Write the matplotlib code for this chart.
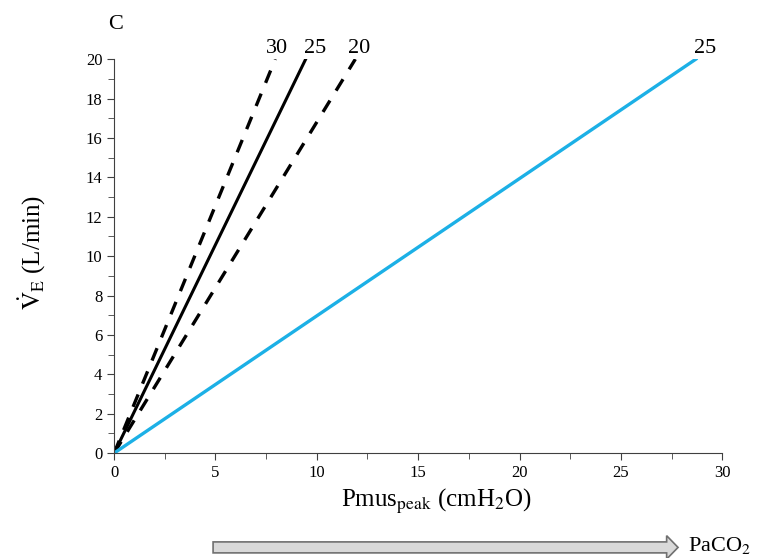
import matplotlib.pyplot as plt
from matplotlib.patches import FancyArrow

plt.rcParams['font.family'] = ['Liberation Serif', 'DejaVu Serif']
plt.rcParams['mathtext.fontset'] = 'stix'

# V'E vs Pmus_peak, end points (lines go through origin)
ve = [0, 20]
pmus_30 = [0, 7.95]     # dashed, PaCO2 30
pmus_25 = [0, 9.45]     # solid, PaCO2 25
pmus_20 = [0, 11.9]     # dashed, PaCO2 20
pmus_blue = [0, 28.7]   # blue, PaCO2 25

top_labels = ['30', '25', '20', '25']
label_x = [8.05, 9.9, 12.1, 29.15]
xticks = [0, 5, 10, 15, 20, 25, 30]
yticks = [0, 2, 4, 6, 8, 10, 12, 14, 16, 18, 20]

fig = plt.figure(figsize=(7.61, 5.58), dpi=100)
ax = fig.add_axes([0.150, 0.188, 0.799, 0.706])

ax.plot(pmus_30, ve, color='black', lw=2.4, ls=(0, (4, 3.5)), solid_capstyle='butt')
ax.plot(pmus_25, ve, color='black', lw=2.2)
ax.plot(pmus_20, ve, color='black', lw=2.4, ls=(0, (4, 3.5)), solid_capstyle='butt')
ax.plot(pmus_blue, ve, color='#1CB0E6', lw=2.4)

ax.set_xlim(0, 30)
ax.set_ylim(0, 20)
ax.set_xticks(xticks)
ax.set_yticks(yticks)
ax.set_xticks([2.5, 7.5, 12.5, 17.5, 22.5, 27.5], minor=True)
ax.set_yticks(range(1, 20, 2), minor=True)
ax.tick_params(which='both', direction='out', colors='#404040', labelcolor='black', labelsize=12)
ax.tick_params(which='major', length=5)
ax.tick_params(which='minor', length=4)
for s in ['top', 'right']:
    ax.spines[s].set_visible(False)
for s in ['left', 'bottom']:
    ax.spines[s].set_color('#404040')

ax.set_xlabel(r'Pmus$_{\mathrm{peak}}$ (cmH$_2$O)', fontsize=18)
ax.set_ylabel(r'$\dot{\mathrm{V}}_{\mathrm{E}}$ (L/min)', fontsize=18)
ax.xaxis.set_label_coords(0.53, -0.085)
ax.yaxis.set_label_coords(-0.108, 0.51)

# curve labels above the top ends
for lx, lab in zip(label_x, top_labels):
    ax.text(lx, 20.3, lab, fontsize=16, ha='center', va='baseline', clip_on=False)

fig.text(0.152, 0.956, 'C', fontsize=16, ha='center', va='center')

# PaCO2 arrow under the axis
arr = FancyArrow(0.280, 0.019, 0.611, 0, width=0.0197, head_width=0.042, head_length=0.015,
                 length_includes_head=True, transform=fig.transFigure,
                 facecolor='#d9d9d9', edgecolor='#707070', lw=1.2)
fig.patches.append(arr)
fig.text(0.904, 0.022, r'PaCO$_2$', fontsize=16, ha='left', va='center')

fig.savefig('out.png', dpi=100)
